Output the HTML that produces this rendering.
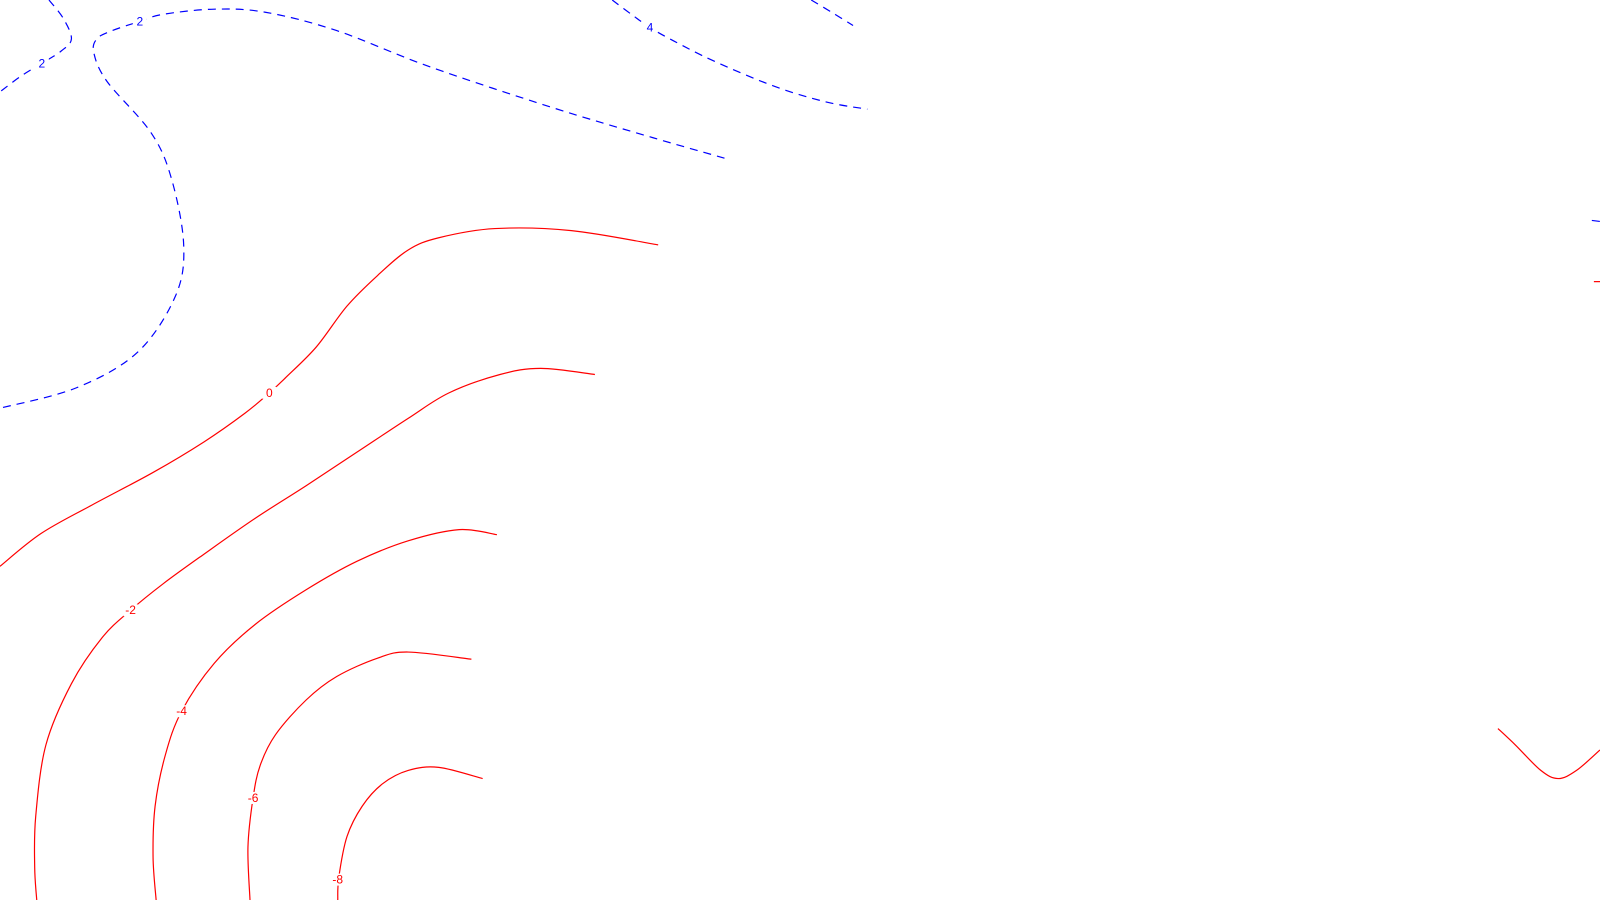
<!DOCTYPE html>
<html><head><meta charset="utf-8"><style>
html,body{margin:0;padding:0;background:#fff;}
svg{display:block;}
text{font-family:"Liberation Sans",sans-serif;font-size:12px;}
</style></head><body>
<svg id="chart" width="1600" height="900" viewBox="0 0 1600 900">
<rect width="1600" height="900" fill="#fff"/>
<g id="lines"></g><g id="labels"></g>
</svg>
<script>
const levels = [2, 2, 4, 4, 4, 0, -2, -4, -6, -8, 0, 0];
const contourPoints = [
 [[48,0],[62,18],[70,38],[60,50],[41,62],[20,75],[0,90]],
 [[710,155],[640,135],[540,105],[420,65],[330,30],[260,12],[210,9],[160,14],[137,21],[110,30],[95,38],[92,52],[105,80],[148,130],[168,175],[180,240],[172,290],[135,345],[75,380],[0,400]],
 [[600,0],[620,15],[637,27],[660,40],[700,60],[760,85],[810,100],[850,107]],
 [[795,0],[815,12],[836,25]],
 [[1560,216],[1568,217]],
 [[645,240],[560,226],[485,224],[430,233],[400,245],[370,270],[340,300],[310,340],[280,370],[264,385],[240,405],[200,433],[150,463],[90,495],[40,523],[0,555]],
 [[583,367],[530,361],[490,367],[440,385],[400,410],[350,443],[300,476],[250,508],[200,543],[160,572],[128,598],[100,625],[70,670],[45,730],[35,800],[34,850],[36,882]],
 [[487,524],[450,519],[400,530],[350,550],[300,578],[250,612],[210,650],[178,697],[162,740],[152,790],[150,840],[153,882]],
 [[462,646],[400,639],[370,645],[330,663],[300,686],[270,720],[255,750],[248,782],[243,830],[245,882]],
 [[473,763],[430,752],[400,755],[375,768],[355,790],[340,820],[332,860],[331,882]],
 [[1562,276],[1568,276]],
 [[1468,714],[1485,730],[1510,755],[1527,763],[1545,755],[1568,735]]
];
const labelText = ["2","2","4","0","-2","-4","-6","-8"];
const labelLevel = [2,2,4,0,-2,-4,-6,-8];
const labelPos = [[137,21],[41,62],[637,27],[264,385],[128,598],[178,697],[248,782],[331,862]];
const K = 1600/1568;
const xs = v => v * K, ys = v => v * K;
const ns = "http://www.w3.org/2000/svg";
const col = l => l > 0 ? "#0000ff" : "#ff0000";
function pathD(p){
  let d = "M" + xs(p[0][0]) + "," + ys(p[0][1]);
  for (let i = 0; i < p.length - 1; i++) {
    const p0 = p[Math.max(0,i-1)], p1 = p[i], p2 = p[i+1], p3 = p[Math.min(p.length-1,i+2)];
    const c1x = xs(p1[0] + (p2[0]-p0[0])/6), c1y = ys(p1[1] + (p2[1]-p0[1])/6);
    const c2x = xs(p2[0] - (p3[0]-p1[0])/6), c2y = ys(p2[1] - (p3[1]-p1[1])/6);
    d += " C" + c1x + "," + c1y + " " + c2x + "," + c2y + " " + xs(p2[0]) + "," + ys(p2[1]);
  }
  return d;
}
const lg = document.getElementById("lines");
contourPoints.forEach((p, i) => {
  const el = document.createElementNS(ns, "path");
  
  
  el.setAttribute("d", pathD(p));
  el.setAttribute("fill", "none");
  el.setAttribute("stroke", col(levels[i]));
  el.setAttribute("stroke-width", "1.2");
  if (levels[i] > 0) el.setAttribute("stroke-dasharray", "8,6");
  lg.appendChild(el);
});
const tg = document.getElementById("labels");
labelPos.forEach((q, i) => {
  const bg = document.createElementNS(ns, "rect");
  
  
  bg.setAttribute("x", xs(q[0]) - 7); bg.setAttribute("y", ys(q[1]) - 6);
  bg.setAttribute("width", 14); bg.setAttribute("height", 12); bg.setAttribute("fill", "#fff");
  tg.appendChild(bg);
  const t = document.createElementNS(ns, "text");
  
  
  t.setAttribute("x", xs(q[0])); t.setAttribute("y", ys(q[1]) + 4);
  t.setAttribute("text-anchor", "middle");
  t.setAttribute("fill", col(labelLevel[i]));
  t.textContent = labelText[i];
  tg.appendChild(t);
});
</script>
</body></html>
